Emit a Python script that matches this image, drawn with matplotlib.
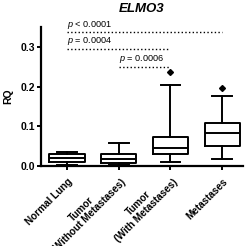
import matplotlib
matplotlib.use("Agg")
import matplotlib.pyplot as plt
from matplotlib.transforms import ScaledTranslation

# === data ===
groups = ["Normal Lung", "Tumor\n(Without Metastases)", "Tumor\n(With Metastases)", "Metastases"]
whislo = [0.003, 0.003, 0.010, 0.017]
q1 = [0.010, 0.006, 0.031, 0.050]
med = [0.019, 0.017, 0.044, 0.082]
q3 = [0.031, 0.031, 0.072, 0.107]
whishi = [0.034, 0.058, 0.205, 0.177]
fliers = [[], [], [0.236], [0.196]]

# significance brackets: (from group, to group, y, label)
brackets = [(1, 4, 0.337, "$p$ < 0.0001"),
            (1, 3, 0.295, "$p$ = 0.0004"),
            (2, 3, 0.250, "$p$ = 0.0006")]

plt.rcParams["font.family"] = ["Liberation Sans", "DejaVu Sans"]
plt.rcParams["mathtext.fontset"] = "custom"
plt.rcParams["mathtext.it"] = "Liberation Sans:italic"
plt.rcParams["mathtext.rm"] = "Liberation Sans"

fig = plt.figure(figsize=(2.5, 2.46), dpi=100)
ax = fig.add_axes([0.164, 0.326, 0.808, 0.564])

stats = []
for i in range(len(groups)):
    stats.append(dict(med=med[i], q1=q1[i], q3=q3[i], whislo=whislo[i],
                      whishi=whishi[i], fliers=fliers[i]))

lw = 1.4
ax.bxp(stats, positions=[1, 2, 3, 4], widths=0.68, showfliers=True,
       boxprops=dict(color="black", linewidth=lw),
       medianprops=dict(color="black", linewidth=lw),
       whiskerprops=dict(color="black", linewidth=lw),
       capprops=dict(color="black", linewidth=lw),
       capwidths=0.38,
       flierprops=dict(marker="D", markerfacecolor="black", markeredgecolor="black",
                       markersize=3))

for a, b, y, lab in brackets:
    ax.plot([a, b], [y, y], color="black", linestyle=":", linewidth=1.0, clip_on=False)
    ax.text(a, y + 0.004, lab, fontsize=6.6, ha="left", va="bottom")

ax.set_xlim(0.5, 4.4)
ax.set_ylim(0, 0.35)
ax.set_yticks([0.0, 0.1, 0.2, 0.3])
ax.set_yticklabels(["0.0", "0.1", "0.2", "0.3"], fontweight="bold", fontsize=7.5)
ax.set_xticks([1, 2, 3, 4])
ax.set_xticklabels([])

# rotated group labels, last line hung under the tick
for i, g in enumerate(groups):
    if "\n" in g:
        off = ScaledTranslation(-4.0 / 72, -3.0 / 72, fig.dpi_scale_trans)
    else:
        off = ScaledTranslation(0.5 / 72, -7.5 / 72, fig.dpi_scale_trans)
    ax.text(i + 1, 0, g, transform=ax.get_xaxis_transform() + off,
            rotation=45, ha="right", va="top", rotation_mode="anchor",
            fontweight="bold", fontsize=7.2, multialignment="center",
            linespacing=1.05)

ax.tick_params(axis="both", direction="out", length=3, width=1.4, pad=1.5)
ax.spines["top"].set_visible(False)
ax.spines["right"].set_visible(False)
ax.spines["left"].set_linewidth(1.6)
ax.spines["bottom"].set_linewidth(1.6)
ax.set_ylabel("RQ", fontweight="bold", fontsize=7.5, labelpad=5)
ax.set_title("ELMO3", fontweight="bold", fontstyle="italic", fontsize=9.5, pad=11)

fig.savefig("out.png", dpi=100)
